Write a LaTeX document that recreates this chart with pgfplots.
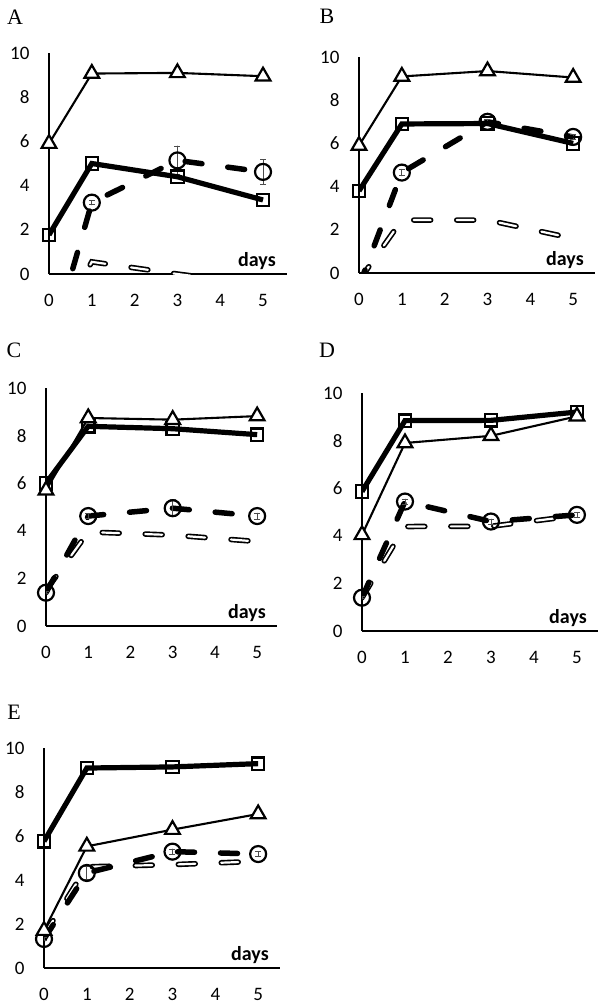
\documentclass[border=0pt]{standalone}
\usepackage{fontspec}
\setmainfont{Carlito}
\newfontfamily\serifletter{Liberation Serif}
\usepackage{pgfplots}
\pgfplotsset{compat=1.18}
\usepackage{pgfplotstable}

\pgfplotstableread{
x tri sq ci cie ho
0 5.9 1.77 -3.5 0 -3
1 9.07 5.0 3.23 0.1 0.55
3 9.1 4.4 5.14 0.65 0
5 8.95 3.35 4.62 0.55 -0.5
}\dataA
\pgfplotstableread{
x tri sq ci cie ho
0 5.9 3.8 -0.6 0 -0.35
1 9.1 6.9 4.65 0.15 2.45
3 9.35 6.92 7.0 0.1 2.45
5 9.05 6.0 6.3 0.1 1.6
}\dataB
\pgfplotstableread{
x tri sq ci cie ho
0 5.7 6.0 1.4 0.05 1.5
1 8.74 8.39 4.62 0.1 3.95
3 8.67 8.29 4.95 0.35 3.82
5 8.82 8.04 4.62 0.12 3.55
}\dataC
\pgfplotstableread{
x tri sq ci cie ho
0 4.04 5.86 1.4 0.05 1.4
1 7.9 8.84 5.44 0.1 4.39
3 8.2 8.85 4.6 0.1 4.4
5 9.02 9.2 4.88 0.1 4.85
}\dataD
\pgfplotstableread{
x tri sq ci cie ho
0 1.7 5.76 1.32 0.05 1.5
1 5.53 9.09 4.32 0.3 4.6
3 6.29 9.14 5.29 0.12 4.7
5 7.0 9.29 5.18 0.12 4.85
}\dataE

\pgfplotsset{
 panel/.style={scale only axis, anchor=south west, xmin=0, ymin=0, ymax=10,
   axis lines=left, axis line style={-, line width=1.3bp},
   xtick={0,...,5}, ytick={0,2,...,10}, major tick length=0pt,
   tick label style={font=\fontsize{19bp}{20bp}\selectfont},
   /pgf/number format/assume math mode=true,
   xticklabel shift=17bp, yticklabel shift=16bp, clip=true},
 tri/.style={black, line width=2.1bp, mark=triangle*, mark size=8.5bp,
   mark options={fill=white, line width=2.2bp}},
 sq/.style={black, line width=5.2bp, mark=square, mark size=6.2bp,
   mark options={line width=2.2bp}},
 ci/.style={black, line width=5.5bp, dash pattern=on 17bp off 26bp, line cap=round,
   mark=o, mark size=8bp, mark options={solid, line width=2.2bp},
   error bars/y dir=both, error bars/y explicit,
   error bars/error bar style={line width=0.8bp, solid, black!70},
   error bars/error mark options={rotate=90, mark size=3bp, line width=0.8bp, black!70}},
 hoA/.style={black, line width=5.5bp, dash pattern=on 17bp off 26bp, line cap=round},
 hoB/.style={white, line width=2.2bp, dash pattern=on 17bp off 26bp, line cap=round},
}
\tikzset{daysnode/.style={anchor=base east, inner sep=0pt, font=\fontsize{20bp}{21bp}\selectfont\bfseries}}

\newcommand{\panel}[1]{%
 \addplot[hoA] table[x=x,y=ho]{#1};
 \addplot[hoB] table[x=x,y=ho]{#1};
 \addplot[ci] table[x=x,y=ci,y error=cie]{#1};
 \addplot[sq] table[x=x,y=sq]{#1};
 \addplot[tri] table[x=x,y=tri]{#1};
 \node[daysnode] at ([xshift=-11bp,yshift=8bp]rel axis cs:1,0) {days};
}

\begin{document}
\begin{tikzpicture}
\path[use as bounding box] (0,0) rectangle (604bp,-1007bp);

\begin{axis}[panel, at={(49bp,-274bp)}, width=238bp, height=221bp, xmax=5.56]
\panel{\dataA}
\end{axis}
\begin{axis}[panel, at={(359bp,-273bp)}, width=236bp, height=216bp, xmax=5.51]
\panel{\dataB}
\end{axis}
\begin{axis}[panel, at={(46bp,-626bp)}, width=231bp, height=238bp, xmax=5.47]
\panel{\dataC}
\end{axis}
\begin{axis}[panel, at={(362bp,-631bp)}, width=236bp, height=238bp, xmax=5.49]
\panel{\dataD}
\end{axis}
\begin{axis}[panel, at={(44bp,-968bp)}, width=236bp, height=220bp, xmax=5.51]
\panel{\dataE}
\end{axis}

\node[font=\serifletter\fontsize{22bp}{24bp}\selectfont] at (15bp,-17bp) {A};
\node[font=\serifletter\fontsize{22bp}{24bp}\selectfont] at (327bp,-16bp) {B};
\node[font=\serifletter\fontsize{22bp}{24bp}\selectfont] at (14bp,-350bp) {C};
\node[font=\serifletter\fontsize{22bp}{24bp}\selectfont] at (327bp,-350bp) {D};
\node[font=\serifletter\fontsize{22bp}{24bp}\selectfont] at (14bp,-712bp) {E};
\end{tikzpicture}
\end{document}
